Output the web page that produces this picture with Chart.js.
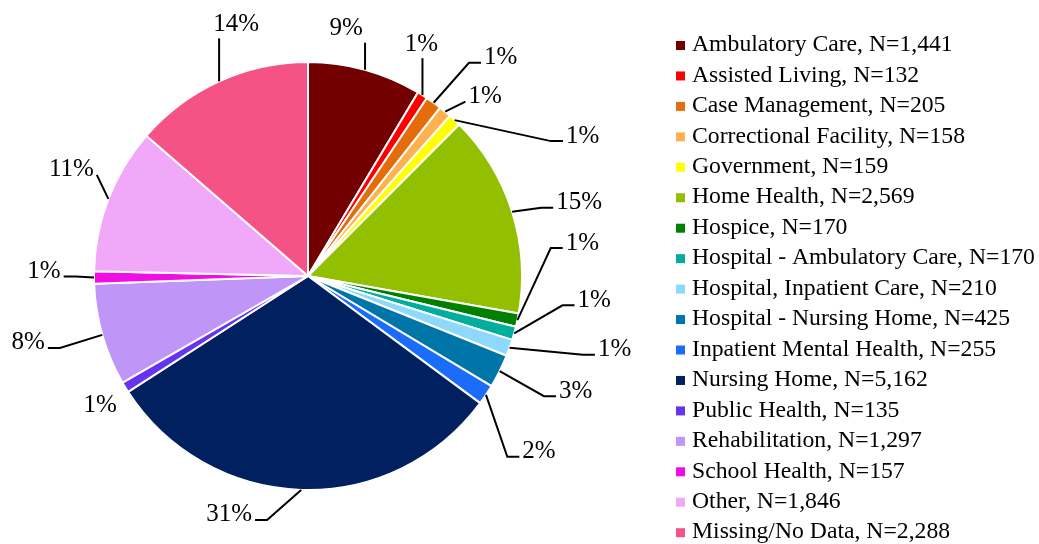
<!DOCTYPE html>
<html>
<head>
<meta charset="utf-8">
<script src="https://cdn.jsdelivr.net/npm/chart.js@4.4.1/dist/chart.umd.min.js"></script>
<style>
  html, body { margin: 0; padding: 0; background: #fff; overflow: hidden; }
</style>
</head>
<body>
<canvas id="pieChart" width="1039" height="544"></canvas>
<script>
const categories = [
  'Ambulatory Care', 'Assisted Living', 'Case Management', 'Correctional Facility',
  'Government', 'Home Health', 'Hospice', 'Hospital - Ambulatory Care',
  'Hospital, Inpatient Care', 'Hospital - Nursing Home', 'Inpatient Mental Health',
  'Nursing Home', 'Public Health', 'Rehabilitation', 'School Health', 'Other',
  'Missing/No Data'
];
const counts = [1441, 132, 205, 158, 159, 2569, 170, 170, 210, 425, 255, 5162, 135, 1297, 157, 1846, 2288];
const colors = [
  '#720000', '#ff0000', '#e46c0a', '#ffb14e', '#ffff00', '#92c000', '#008000', '#00ae9e',
  '#8ed8fc', '#0076a8', '#1c6cfa', '#002060', '#6633f0', '#bf95f7', '#f20ce5', '#f2a8f8',
  '#f55385'
];
// where each percent label sits, relative to the edge of its slice (px)
const labelOffsets = [
  [-19, -42], [-1, -52], [67, -46], [40, -16], [128, 15], [67, -10], [65, -78], [80, -34],
  [105, 1], [76, 19], [53, 56], [-72, 24], [-25, 17], [-74, 7], [-50, -7], [-37, -30], [17, -58]
];

const total = counts.reduce((a, b) => a + b, 0);
const serif = '"Liberation Serif", "Times New Roman", serif';

const labelPlugin = {
  id: 'pctLabels',
  afterDatasetsDraw(chart) {
    const ctx = chart.ctx;
    const arcs = chart.getDatasetMeta(0).data;
    ctx.save();
    ctx.font = '25px ' + serif;
    ctx.fillStyle = '#000';
    ctx.strokeStyle = '#000';
    ctx.lineWidth = 2;
    ctx.textAlign = 'center';
    ctx.textBaseline = 'middle';
    arcs.forEach((arc, i) => {
      const mid = (arc.startAngle + arc.endAngle) / 2;
      const ax = arc.x + Math.cos(mid) * arc.outerRadius;
      const ay = arc.y + Math.sin(mid) * arc.outerRadius;
      const [dx, dy] = labelOffsets[i];
      const tx = ax + dx, ty = ay + dy;
      const text = Math.round(counts[i] / total * 100) + '%';
      const w = ctx.measureText(text).width;
      ctx.fillText(text, tx, ty + 1);

      if (Math.hypot(dx, dy) < 35) return;
      ctx.beginPath();
      ctx.moveTo(ax, ay);
      if (Math.abs(dx) > w / 2 + 5) {
        const side = dx > 0 ? -1 : 1;
        const ex = tx + side * (w / 2 + 3);
        const ey = ty + 6;
        const elbow = ex + side * 12;
        if (Math.abs(ex - ax) > 25) ctx.lineTo(elbow, ey);
        ctx.lineTo(ex, ey);
      } else {
        const ey = dy < 0 ? ty + 15 : ty - 15;
        ctx.lineTo(ax, ey);
      }
      ctx.stroke();
    });
    ctx.restore();
  }
};

const legendPlugin = {
  id: 'sideLegend',
  afterDraw(chart) {
    const ctx = chart.ctx;
    ctx.save();
    ctx.font = '23.7px ' + serif;
    ctx.textAlign = 'left';
    ctx.textBaseline = 'middle';
    categories.forEach((name, i) => {
      const y = 45 + i * 30.45;
      ctx.fillStyle = colors[i];
      ctx.fillRect(676, y - 4, 9, 9);
      ctx.fillStyle = '#000';
      ctx.fillText(name + ', N=' + counts[i].toLocaleString('en-US'), 692, y);
    });
    ctx.restore();
  }
};

new Chart(document.getElementById('pieChart'), {
  type: 'pie',
  data: {
    labels: categories,
    datasets: [{
      data: counts,
      backgroundColor: colors,
      borderColor: '#ffffff',
      borderWidth: 2
    }]
  },
  options: {
    responsive: false,
    animation: false,
    layout: { padding: { left: 93, right: 516, top: 61, bottom: 53 } },
    plugins: {
      legend: { display: false },
      tooltip: { enabled: false }
    }
  },
  plugins: [labelPlugin, legendPlugin]
});
</script>
</body>
</html>
